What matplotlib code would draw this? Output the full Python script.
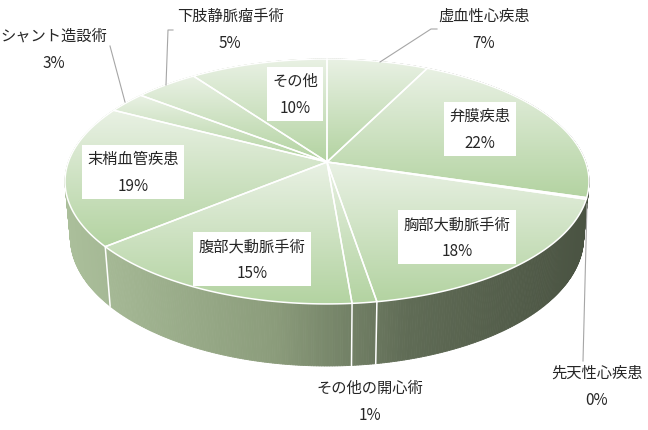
import numpy as np
import matplotlib
matplotlib.use('Agg')
import matplotlib.pyplot as plt
from matplotlib.patches import Polygon
from matplotlib.collections import PolyCollection
from matplotlib.colors import LinearSegmentedColormap, to_rgb

plt.rcParams['font.family'] = ['Noto Sans CJK JP', 'DejaVu Sans']

# データ (割合 %, 12時から時計回り)
names = ['虚血性心疾患', '弁膜疾患', '先天性心疾患', '胸部大動脈手術', 'その他の開心術',
         '腹部大動脈手術', '末梢血管疾患', 'シャント造設術', '下肢静脈瘤手術', 'その他']
values = [7.3, 22.3, 0.2, 17.6, 1.3, 15.3, 18.7, 2.8, 4.6, 9.9]

# ラベル配置 (ピクセル座標) と白枠の有無
label_pos = [(484, 30), (480, 130), (597, 387), (457, 238), (370, 402),
             (252, 260), (133, 173), (54, 50), (230, 30), (295, 95)]
boxed = [False, True, False, True, False, True, True, False, False, True]
leaders = {
    0: [(380, 63), (431, 30), (437, 30)],
    2: [(587, 205), (583, 362)],
    7: [(125, 103), (110, 47)],
    8: [(166, 86), (168, 31), (173, 31)],
}

# 3D 投影パラメータ
cx, cy = 327, 163
D, F = 5.579, 1443
sin_t, cos_t = 0.4615, 0.8871
thick = 0.2455


def proj(a, z=0.0):
    X, Y = np.sin(a), np.cos(a)
    up = Y * sin_t + z * cos_t
    dist = D + Y * cos_t - z * sin_t
    return cx + F * X / dist, cy - F * up / dist


fig = plt.figure(figsize=(6.48, 4.31), dpi=100)
ax = fig.add_axes([0, 0, 1, 1])

# 側面
side_cmap = LinearSegmentedColormap.from_list(
    'side', [(0, '#abbf9b'), (0.4, '#8b9c7b'), (0.65, '#606c56'), (1, '#4a5342')])
aa = np.linspace(0, 2 * np.pi, 721)
tx, ty = proj(aa)
bx, by = proj(aa, -thick)
quads, keys, cols = [], [], []
for i in range(len(aa) - 1):
    quads.append([(tx[i], ty[i]), (tx[i + 1], ty[i + 1]), (bx[i + 1], by[i + 1]), (bx[i], by[i])])
    keys.append(np.cos((aa[i] + aa[i + 1]) / 2))
    xm = (tx[i] + tx[i + 1]) / 2
    cols.append(side_cmap(np.clip((xm - 65) / 525, 0, 1)))
order = np.argsort(keys)[::-1]
ax.add_collection(PolyCollection([quads[i] for i in order], facecolors=[cols[i] for i in order],
                                 edgecolors=[cols[i] for i in order], linewidths=0.6, zorder=1))

# 上面 (扇形ごとに縦グラデーション)
c_top, c_bot = np.array(to_rgb('#e9f1e4')), np.array(to_rgb('#b3d3a1'))
t = np.linspace(0, 1, 256)[:, None, None]
grad = c_top * (1 - t) + c_bot * t

bounds = np.concatenate([[0], np.cumsum(values)]) / 100 * 2 * np.pi
for i in range(len(values)):
    a = np.linspace(bounds[i], bounds[i + 1], max(3, int(values[i] * 4)))
    px, py = proj(a)
    pts = [(cx, cy)] + list(zip(px, py))
    poly = Polygon(pts, closed=True, fc='none', ec='white', lw=1.1, zorder=3)
    ax.add_patch(poly)
    xs = [p[0] for p in pts]
    ys = [p[1] for p in pts]
    im = ax.imshow(grad, extent=(min(xs), max(xs), max(ys), min(ys)), aspect='auto',
                   interpolation='bilinear', zorder=2)
    im.set_clip_path(poly)

# 側面の境界線
for b in bounds:
    if np.cos(b) < -0.3:
        x0, y0 = proj(b)
        x1, y1 = proj(b, -thick)
        ax.plot([x0, x1], [y0, y1], color='white', lw=1.1, zorder=2.5)

# 引き出し線
for pts in leaders.values():
    ax.plot([p[0] for p in pts], [p[1] for p in pts], color='#a6a6a6', lw=0.8, zorder=4)

# ラベル
for i, name in enumerate(names):
    txt = f'{name}\n{values[i]:.0f}%'
    bb = dict(boxstyle='square,pad=0.35', fc='white', ec='none') if boxed[i] else None
    ax.text(label_pos[i][0], label_pos[i][1], txt, ha='center', va='center',
            fontsize=11, color='#262626', linespacing=1.75, bbox=bb, zorder=5)

ax.set_xlim(0, 648)
ax.set_ylim(431, 0)
ax.axis('off')
fig.savefig('out.png', dpi=100)
